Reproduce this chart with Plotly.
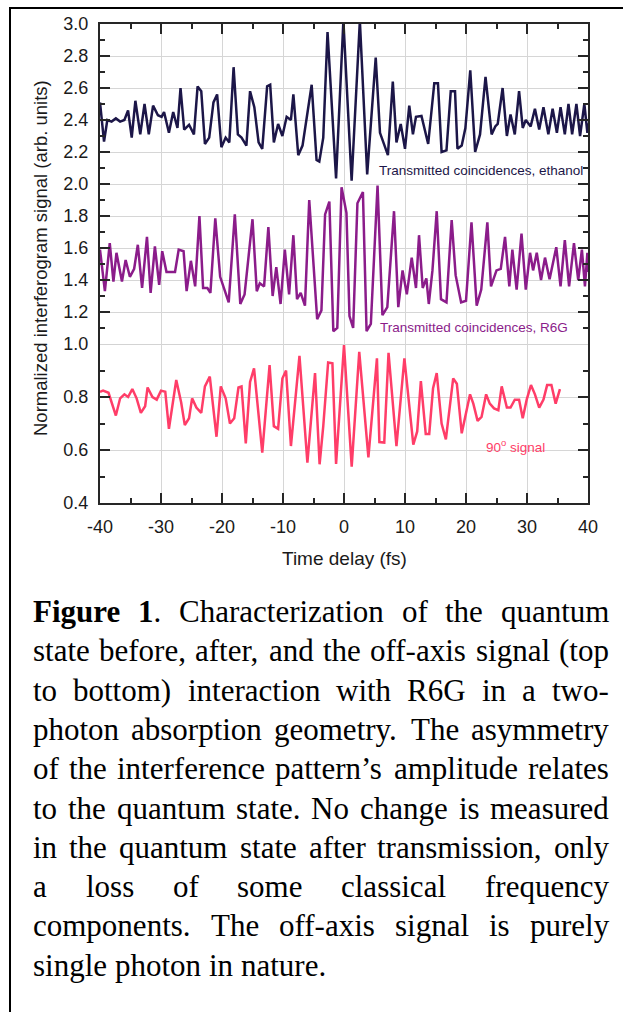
import plotly.graph_objects as go

# ---------------- data ----------------
eth_t = [-40.0, -39.34, -38.8, -38.1, -37.4, -36.7, -36.0, -35.4, -34.8, -34.2, -33.4, -32.7, -32.0, -31.3,
         -30.5, -29.9, -29.5, -28.7, -28.0, -27.3, -26.8, -26.2, -25.4, -24.6, -24.0, -23.4, -22.8, -22.1,
         -21.4, -20.8, -20.1, -19.4, -18.8, -18.1, -17.4, -16.8, -16.0, -15.4, -14.7, -14.0, -13.4, -12.6,
         -12.1, -11.5, -10.8, -10.1, -9.4, -8.7, -8.3, -7.5, -6.8, -5.3, -4.5, -4.05, -3.4, -2.7, -1.3,
         -0.1, 1.25, 2.6, 3.8, 5.2, 5.9, 7.2, 8.0, 8.6, 9.3, 10.0, 10.7, 11.3, 11.8, 12.7, 13.8, 14.8,
         15.4, 16.0, 16.8, 17.5, 18.2, 18.6, 19.3, 19.9, 20.7, 21.5, 22.3, 23.2, 24.2, 24.8, 25.2, 26.0,
         26.7, 27.3, 28.0, 28.7, 29.3, 29.8, 30.6, 31.3, 32.0, 32.7, 33.5, 34.2, 34.9, 35.5, 36.2, 36.8,
         37.4, 38.1, 38.7, 39.4, 39.9, 40.0]
eth_v = [2.51, 2.265, 2.40, 2.39, 2.41, 2.39, 2.40, 2.46, 2.29, 2.52, 2.31, 2.50, 2.31, 2.49,
         2.43, 2.42, 2.45, 2.32, 2.45, 2.35, 2.60, 2.34, 2.37, 2.31, 2.61, 2.58, 2.25, 2.29,
         2.51, 2.56, 2.23, 2.29, 2.26, 2.73, 2.31, 2.29, 2.24, 2.58, 2.48, 2.26, 2.22, 2.61,
         2.62, 2.26, 2.375, 2.30, 2.42, 2.40, 2.56, 2.18, 2.24, 2.62, 2.15, 2.14, 2.29, 2.95, 2.035,
         3.02, 2.02, 3.02, 2.06, 2.79, 2.32, 2.18, 2.64, 2.26, 2.375, 2.22, 2.49, 2.31, 2.42, 2.425, 2.25, 2.63,
         2.63, 2.20, 2.21, 2.58, 2.58, 2.22, 2.24, 2.35, 2.71, 2.20, 2.31, 2.67, 2.31, 2.36, 2.375, 2.60,
         2.30, 2.435, 2.31, 2.58, 2.35, 2.40, 2.36, 2.47, 2.34, 2.48, 2.31, 2.47, 2.32, 2.48, 2.31, 2.50,
         2.31, 2.50, 2.30, 2.50, 2.32, 2.38]

r6g_t = [-40.0, -39.2, -38.4, -37.8, -37.3, -36.4, -35.8, -35.1, -34.4, -33.8, -33.1, -32.3, -31.7, -31.0,
         -30.3, -29.8, -29.1, -27.7, -27.1, -26.3, -25.8, -25.1, -24.4, -23.7, -23.1, -22.4, -21.9, -21.1,
         -20.3, -18.9, -17.9, -17.0, -16.3, -15.0, -14.3, -13.8, -13.1, -12.4, -11.7, -11.1, -10.4, -9.7,
         -9.0, -8.3, -7.7, -7.1, -6.4, -5.7, -4.4, -3.7, -3.1, -2.4, -1.75, -1.1, -0.4, 0.4, 0.9, 1.5,
         2.2, 3.1, 3.7, 4.4, 5.5, 6.3, 7.1, 8.2, 8.9, 9.6, 10.3, 11.1, 11.8, 12.3, 12.9, 13.5, 13.9, 14.5,
         15.2, 15.9, 16.8, 17.65, 18.3, 19.2, 20.0, 20.9, 21.75, 22.5, 23.5, 24.1, 25.0, 25.7, 26.4, 27.1,
         27.6, 28.3, 29.1, 29.8, 30.5, 31.0, 31.6, 32.3, 32.95, 33.7, 34.8, 35.5, 36.2, 36.9, 37.7, 38.4,
         39.0, 39.5, 39.9, 40.0]
r6g_v = [1.59, 1.33, 1.63, 1.39, 1.57, 1.39, 1.525, 1.42, 1.47, 1.62, 1.35, 1.67, 1.32, 1.61,
         1.37, 1.58, 1.45, 1.45, 1.59, 1.58, 1.33, 1.52, 1.36, 1.80, 1.35, 1.35, 1.32, 1.785,
         1.42, 1.26, 1.81, 1.25, 1.31, 1.78, 1.33, 1.38, 1.36, 1.73, 1.30, 1.48, 1.25, 1.59,
         1.31, 1.68, 1.28, 1.32, 1.24, 1.90, 1.155, 1.21, 1.81, 1.89, 1.08, 1.10, 1.98, 1.82, 1.175, 1.10,
         1.88, 1.95, 1.08, 1.125, 1.99, 1.18, 1.23, 1.83, 1.23, 1.46, 1.31, 1.54, 1.35, 1.68, 1.35, 1.41, 1.25, 1.46,
         1.83, 1.28, 1.26, 1.775, 1.43, 1.26, 1.27, 1.76, 1.24, 1.34, 1.76, 1.36, 1.46, 1.47, 1.67, 1.36,
         1.59, 1.34, 1.69, 1.34, 1.57, 1.46, 1.57, 1.40, 1.54, 1.405, 1.605, 1.36, 1.65, 1.36, 1.63, 1.40,
         1.59, 1.36, 1.57, 1.45]

sig90_t = [-40.0, -39.5, -38.6, -37.4, -36.7, -36.0, -35.4, -34.7, -34.0, -33.3, -32.6, -32.2, -31.4, -30.7,
           -30.0, -29.3, -28.7, -27.5, -26.7, -26.1, -25.4, -24.9, -24.2, -23.4, -22.8, -22.0, -20.9, -20.2,
           -19.4, -18.7, -18.0, -17.3, -16.8, -16.1, -15.4, -14.75, -13.4, -12.2, -11.5, -10.8, -10.1, -9.5,
           -8.7, -7.3, -6.0, -5.4, -4.75, -4.0, -3.4, -2.6, -1.9, -1.3, 0.0, 1.26, 2.5, 4.0, 5.4, 5.8,
           6.6, 7.3, 8.6, 9.9, 11.36, 12.0, 12.6, 13.4, 13.97, 14.6, 15.2, 16.0, 16.7, 17.9, 18.5, 19.3,
           19.95, 20.66, 21.2, 21.9, 22.55, 23.3, 23.9, 24.6, 25.3, 25.85, 26.7, 27.3, 28.0, 28.7, 29.3,
           29.95, 30.65, 31.3, 32.0, 32.7, 33.3, 34.0, 34.7, 35.4]
sig90_v = [0.82, 0.824, 0.816, 0.73, 0.795, 0.81, 0.80, 0.83, 0.795, 0.74, 0.765, 0.836, 0.80, 0.79,
           0.824, 0.82, 0.68, 0.864, 0.78, 0.694, 0.72, 0.795, 0.76, 0.74, 0.84, 0.877, 0.65, 0.84,
           0.795, 0.70, 0.72, 0.836, 0.84, 0.625, 0.857, 0.908, 0.59, 0.92, 0.69, 0.68, 0.87, 0.90,
           0.615, 0.955, 0.552, 0.70, 0.89, 0.546, 0.69, 0.93, 0.927, 0.547, 0.996, 0.537, 0.97, 0.572, 0.946, 0.63,
           0.628, 0.967, 0.615, 0.946, 0.62, 0.67, 0.86, 0.66, 0.66, 0.833, 0.89, 0.70, 0.64, 0.87, 0.85, 0.663,
           0.74, 0.81, 0.775, 0.71, 0.725, 0.81, 0.775, 0.757, 0.75, 0.84, 0.76, 0.76, 0.79, 0.79, 0.72,
           0.79, 0.845, 0.81, 0.76, 0.79, 0.845, 0.845, 0.775, 0.83]

x_major = [-40, -30, -20, -10, 0, 10, 20, 30, 40]
x_minor = [-35, -25, -15, -5, 5, 15, 25, 35]
y_low_major = [0.4, 0.6, 0.8, 1.0]
y_low_minor = [0.5, 0.7, 0.9]
y_up_major = [1.2, 1.4, 1.6, 1.8, 2.0, 2.2, 2.4, 2.6, 2.8, 3.0]
y_up_minor = [1.1, 1.3, 1.5, 1.7, 1.9, 2.1, 2.3, 2.5, 2.7, 2.9]

series_labels = ["Transmitted coincidences, ethanol", "Transmitted coincidences, R6G", "90<sup>o</sup> signal"]
x_title = "Time delay (fs)"
y_title = "Normalized interferogram signal (arb. units)"

caption_lines = [
    "Figure 1. Characterization of the quantum",
    "state before, after, and the off-axis signal (top",
    "to bottom) interaction with R6G in a two-",
    "photon absorption geometry. The asymmetry",
    "of the interference pattern\u2019s amplitude relates",
    "to the quantum state. No change is measured",
    "in the quantum state after transmission, only",
    "a loss of some classical frequency",
    "components. The off-axis signal is purely",
    "single photon in nature.",
]

# ---------------- style / layout ----------------
W, H = 623, 1012
ML, MR, MT, MB = 100, 35, 24, 509
PW = W - ML - MR
PH = H - MT - MB
LOWER_FRAC = 159 / 479

C_ETH = "#1c1648"
C_R6G = "#8b1c8a"
C_90 = "#ff3d68"
AX = "#262626"
GRID = "#d6d6d6"
TXT = "#1a1a1a"
SANS = "Liberation Sans, Arial, sans-serif"
SERIF = "Liberation Serif, Times New Roman, serif"


def px_x(px):
    return (px - ML) / PW


def px_y(py):
    return (H - MB - py) / PH


fig = go.Figure()
fig.add_trace(go.Scatter(x=sig90_t, y=sig90_v, mode="lines", line=dict(color=C_90, width=2.5),
                         xaxis="x", yaxis="y", showlegend=False, hoverinfo="skip"))
fig.add_trace(go.Scatter(x=r6g_t, y=r6g_v, mode="lines", line=dict(color=C_R6G, width=2.5),
                         xaxis="x2", yaxis="y2", showlegend=False, hoverinfo="skip"))
fig.add_trace(go.Scatter(x=eth_t, y=eth_v, mode="lines", line=dict(color=C_ETH, width=2.5),
                         xaxis="x2", yaxis="y2", showlegend=False, hoverinfo="skip"))

common_axis = dict(showline=True, linewidth=2, linecolor=AX, ticks="inside", ticklen=10, tickwidth=1.8,
                   tickcolor=AX, showgrid=True, gridcolor=GRID, gridwidth=1, zeroline=False,
                   tickfont=dict(family=SANS, size=18, color=TXT))

xa = dict(common_axis, domain=[0, 1], range=[-40, 40], tickmode="array", tickvals=x_major,
          ticktext=[str(v) for v in x_major],
          minor=dict(tickmode="array", tickvals=x_minor, ticks="inside", ticklen=5, tickwidth=1.8,
                     tickcolor=AX, showgrid=False))
fig.update_layout(
    width=W, height=H, margin=dict(l=ML, r=MR, t=MT, b=MB, autoexpand=False),
    paper_bgcolor="white", plot_bgcolor="white", showlegend=False,
    xaxis=dict(xa, anchor="y", side="bottom", ticklabelstandoff=6),
    xaxis2=dict(xa, anchor="y2", side="top", matches="x", showticklabels=False),
    yaxis=dict(common_axis, domain=[0, LOWER_FRAC], anchor="x", range=[0.4, 1.0], mirror="ticks",
               tickmode="array", tickvals=y_low_major, ticktext=[f"{v:.1f}" for v in y_low_major],
               ticklabelstandoff=6,
               minor=dict(tickmode="array", tickvals=y_low_minor, ticks="inside", ticklen=5, tickwidth=1.8,
                          tickcolor=AX, showgrid=False)),
    yaxis2=dict(common_axis, domain=[LOWER_FRAC, 1], anchor="x2", range=[1.0, 3.0], mirror="ticks",
                tickmode="array", tickvals=y_up_major, ticktext=[f"{v:.1f}" for v in y_up_major],
                ticklabelstandoff=6,
                minor=dict(tickmode="array", tickvals=y_up_minor, ticks="inside", ticklen=5, tickwidth=1.8,
                           tickcolor=AX, showgrid=False)),
)

ann = []
# series labels
ann.append(dict(text=series_labels[0], x=px_x(378), y=px_y(170), xref="paper", yref="paper",
                xanchor="left", yanchor="middle", showarrow=False, borderpad=0,
                font=dict(family=SANS, size=13.5, color=C_ETH)))
ann.append(dict(text=series_labels[1], x=px_x(379), y=px_y(327), xref="paper", yref="paper",
                xanchor="left", yanchor="middle", showarrow=False, borderpad=0,
                font=dict(family=SANS, size=13.5, color=C_R6G)))
ann.append(dict(text=series_labels[2], x=px_x(485), y=px_y(446), xref="paper", yref="paper",
                xanchor="left", yanchor="middle", showarrow=False, borderpad=0,
                font=dict(family=SANS, size=13.5, color=C_90)))
# axis titles
ann.append(dict(text=x_title, x=px_x(344), y=px_y(558), xref="paper", yref="paper",
                xanchor="center", yanchor="middle", showarrow=False,
                font=dict(family=SANS, size=19, color=TXT)))
ann.append(dict(text=y_title, x=px_x(40), y=px_y(258), xref="paper", yref="paper", textangle=-90,
                xanchor="center", yanchor="middle", showarrow=False,
                font=dict(family=SANS, size=18.5, color=TXT)))

# ---------------- caption (justified, word by word) ----------------
TIMES = {' ': 250, '(': 333, ')': 333, ',': 250, '-': 333, '.': 250, '\u2019': 333,
         '0': 500, '1': 500, '2': 500, '3': 500, '4': 500, '5': 500, '6': 500, '7': 500, '8': 500, '9': 500,
         'A': 722, 'B': 667, 'C': 667, 'D': 722, 'E': 611, 'F': 556, 'G': 722, 'H': 722, 'I': 333,
         'J': 389, 'K': 722, 'L': 611, 'M': 889, 'N': 722, 'O': 722, 'P': 556, 'Q': 722, 'R': 667,
         'S': 556, 'T': 611, 'U': 722, 'V': 722, 'W': 944, 'X': 722, 'Y': 722, 'Z': 611,
         'a': 444, 'b': 500, 'c': 444, 'd': 500, 'e': 444, 'f': 333, 'g': 500, 'h': 500, 'i': 278,
         'j': 278, 'k': 500, 'l': 278, 'm': 778, 'n': 500, 'o': 500, 'p': 500, 'q': 500, 'r': 333,
         's': 389, 't': 278, 'u': 500, 'v': 500, 'w': 722, 'x': 500, 'y': 500, 'z': 444}
TIMES_B = {'F': 611, 'i': 278, 'g': 500, 'u': 556, 'r': 444, 'e': 444, '1': 500}

FS = 31
LEFT, RIGHT = 32, 608
BASE0, STEP = 622, 39.3


def segs_width(segs):
    tot = 0
    for txt, bold in segs:
        tab = TIMES_B if bold else TIMES
        tot += sum(tab.get(ch, 500) for ch in txt)
    return tot * FS / 1000.0


for i, line in enumerate(caption_lines):
    words = line.split(" ")
    wsegs = []
    for j, wd in enumerate(words):
        if i == 0 and wd == "Figure":
            wsegs.append([(wd, True)])
        elif i == 0 and wd == "1.":
            wsegs.append([("1", True), (".", False)])
        else:
            wsegs.append([(wd, False)])
    widths = [segs_width(s) for s in wsegs]
    last = (i == len(caption_lines) - 1)
    if last or len(words) == 1:
        gap = TIMES[' '] * FS / 1000.0
    else:
        gap = (RIGHT - LEFT - sum(widths)) / (len(words) - 1)
    xpos = LEFT
    yc = BASE0 + i * STEP - 0.3375 * FS
    for s, wdt in zip(wsegs, widths):
        html = "".join(f"<b>{t}</b>" if b else t for t, b in s)
        ann.append(dict(text=html, x=px_x(xpos), y=px_y(yc), xref="paper", yref="paper",
                        xanchor="left", yanchor="middle", showarrow=False, borderpad=0,
                        font=dict(family=SERIF, size=FS, color="black")))
        xpos += wdt + gap

fig.update_layout(annotations=ann)

# frame of the figure cell, and the slightly darker 1.0 line where the two scales meet
fig.update_layout(shapes=[
    dict(type="line", xref="paper", yref="y", x0=0, x1=1, y0=1.0, y1=1.0,
         line=dict(color="#c4c4c4", width=1.5), layer="below"),
    dict(type="line", xref="paper", yref="paper", x0=px_x(10), x1=px_x(10), y0=px_y(1014), y1=px_y(7),
         line=dict(color="black", width=2)),
    dict(type="line", xref="paper", yref="paper", x0=px_x(9), x1=px_x(625), y0=px_y(8), y1=px_y(8),
         line=dict(color="black", width=2)),
])

fig.write_html("out.html")
